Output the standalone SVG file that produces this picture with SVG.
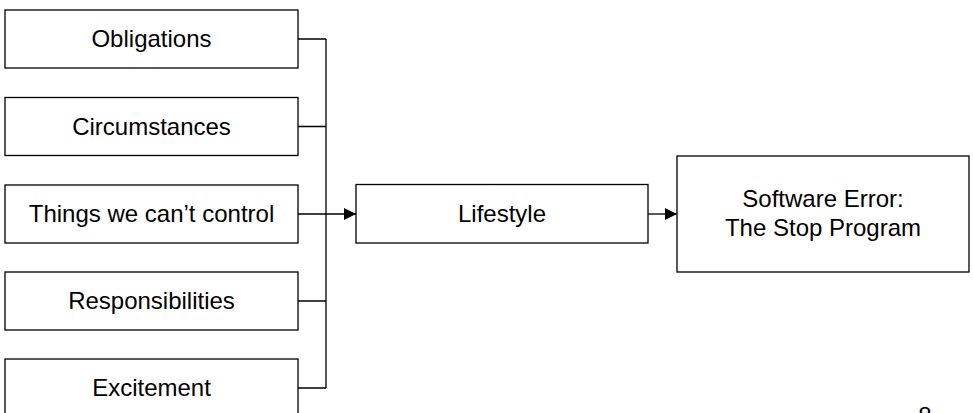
<svg xmlns="http://www.w3.org/2000/svg" width="973" height="413" viewBox="0 0 973 413">
<defs>
<style>
.box{fill:#fff;stroke:#000;stroke-width:1.3}
.lbl{font-family:"Liberation Sans",Arial,sans-serif;font-size:24px;fill:#000;text-anchor:middle}
.con{fill:none;stroke:#000;stroke-width:1.3}
</style>
<marker id="ah" markerWidth="12" markerHeight="12" refX="12" refY="6" orient="auto" markerUnits="userSpaceOnUse">
<path d="M0,0 L12,6 L0,12 Z" fill="#000"/>
</marker>
</defs>
<rect width="973" height="413" fill="#fff"/>
<g id="n-obligations"><rect class="box" x="5" y="10" width="293" height="58"/><text class="lbl" x="151.5" y="47">Obligations</text></g>
<g id="n-circumstances"><rect class="box" x="5" y="97.5" width="293" height="58"/><text class="lbl" x="151.5" y="134.5">Circumstances</text></g>
<g id="n-things"><rect class="box" x="5" y="185" width="293" height="58"/><text class="lbl" x="151.5" y="222">Things we can’t control</text></g>
<g id="n-responsibilities"><rect class="box" x="5" y="272" width="293" height="58"/><text class="lbl" x="151.5" y="309">Responsibilities</text></g>
<g id="n-excitement"><rect class="box" x="5" y="359" width="293" height="60"/><text class="lbl" x="151.5" y="396">Excitement</text></g>
<g id="n-lifestyle"><rect class="box" x="356" y="184.5" width="292" height="58.5"/><text class="lbl" x="502" y="222">Lifestyle</text></g>
<g id="n-software"><rect class="box" x="677" y="156" width="292" height="116"/><text class="lbl" x="823" y="207">Software Error:</text><text class="lbl" x="823" y="236">The Stop Program</text></g>
<g id="connectors">
<path class="con" d="M298,39 H326 M298,126.5 H326 M298,301 H326 M298,388 H326 M326,39 V388"/>
<path class="con" d="M298,214 H356" marker-end="url(#ah)"/>
<path class="con" d="M648,214 H677" marker-end="url(#ah)"/>
</g>
<text class="lbl" x="925" y="424">8</text>
</svg>
